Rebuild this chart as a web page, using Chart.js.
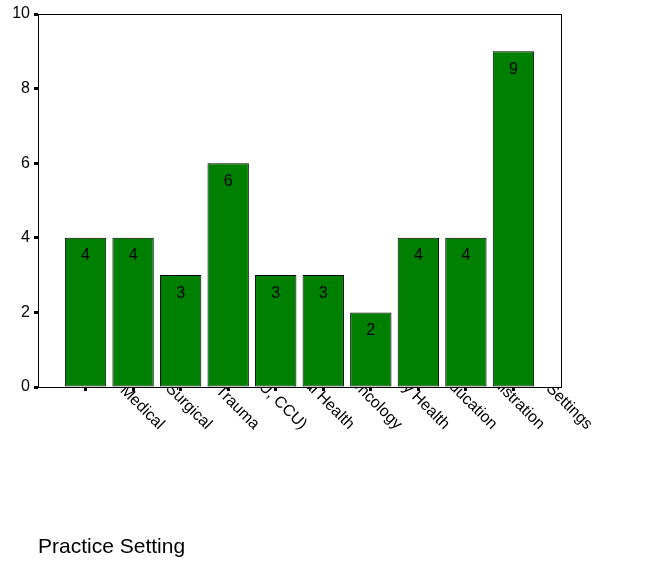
<!DOCTYPE html>
<html>
<head>
<meta charset="utf-8">
<title>Practice Setting</title>
<script src="https://cdn.jsdelivr.net/npm/chart.js@4/dist/chart.umd.min.js"></script>
<style>
  html, body { margin: 0; padding: 0; background: #fff; }
  #wrap { width: 666px; height: 564px; }
</style>
</head>
<body>
<div id="wrap"><canvas id="chart" width="666" height="564"></canvas></div>
<script>
// Practice setting counts
const categories = [
  'Medical', 'Surgical', 'Trauma', 'Critical Care (ICU, CCU)', 'Mental Health',
  'Oncology', 'Community Health', 'Education', 'Administration', 'Various Settings'
];
const counts = [4, 4, 3, 6, 3, 3, 2, 4, 4, 9];
const yTicks = [0, 2, 4, 6, 8, 10];
const axisTitle = 'Practice Setting';

const FONT = "'Liberation Sans', Arial, sans-serif";
const GREEN = '#008000';

// bars sit at 1..n on a linear axis that runs 0..n+1
const points = counts.map((v, i) => ({ x: i + 1, y: v }));

// frame round the plot area (top and right sides)
const frame = {
  id: 'frame',
  afterDraw(chart) {
    const { ctx, chartArea: a } = chart;
    ctx.save();
    ctx.strokeStyle = '#000';
    ctx.lineWidth = 1;
    ctx.strokeRect(Math.round(a.left) + 0.5, Math.round(a.top) + 0.5,
      Math.round(a.right - a.left), Math.round(a.bottom - a.top));
    ctx.restore();
  }
};

// count printed just inside the top of each bar
const barValues = {
  id: 'barValues',
  afterDatasetsDraw(chart) {
    const { ctx } = chart;
    const meta = chart.getDatasetMeta(0);
    ctx.save();
    ctx.font = '16px ' + FONT;
    ctx.fillStyle = '#000';
    ctx.textAlign = 'center';
    ctx.textBaseline = 'middle';
    meta.data.forEach((bar, i) => {
      ctx.fillText(String(counts[i]), bar.x, bar.y + 18);
    });
    ctx.restore();
  }
};

// category names, slanted down to the right, hidden where they run under the plot
const slantLabels = {
  id: 'slantLabels',
  afterDraw(chart) {
    const { ctx, chartArea: a, width, height } = chart;
    const xs = chart.scales.x;
    ctx.save();
    ctx.beginPath();
    ctx.rect(0, 0, width, height);
    ctx.rect(a.left, a.top, a.right - a.left, a.bottom - a.top);
    ctx.clip('evenodd');
    ctx.font = '16px ' + FONT;
    ctx.fillStyle = '#000';
    ctx.textAlign = 'right';
    ctx.textBaseline = 'middle';
    categories.forEach((name, i) => {
      const x = xs.getPixelForValue(i + 1);
      ctx.save();
      ctx.translate(x + 76, a.bottom + 40);
      ctx.rotate(Math.PI / 4);
      ctx.fillText(name, 0, 0);
      ctx.restore();
    });
    ctx.restore();
  }
};

new Chart(document.getElementById('chart'), {
  type: 'bar',
  data: {
    datasets: [{
      label: 'Count',
      data: points,
      backgroundColor: GREEN,
      borderColor: '#000',
      borderWidth: 1,
      borderSkipped: false,
      categoryPercentage: 1,
      barPercentage: 0.87
    }]
  },
  options: {
    responsive: false,
    animation: false,
    layout: { padding: { top: 14, right: 105, left: 0, bottom: 0 } },
    plugins: { legend: { display: false }, tooltip: { enabled: false } },
    scales: {
      x: {
        type: 'linear',
        offset: false,
        min: 0,
        max: categories.length + 1,
        afterBuildTicks: s => { s.ticks = categories.map((c, i) => ({ value: i + 1 })); },
        afterFit: s => { s.height = 177; },
        ticks: { callback: () => '', autoSkip: false },
        grid: { offset: false, drawOnChartArea: false, tickLength: 4, tickWidth: 3, color: '#000' },
        border: { color: '#000', width: 1 },
        title: {
          display: true,
          text: axisTitle,
          align: 'start',
          color: '#000',
          font: { family: FONT, size: 21 },
          padding: { top: 4, bottom: 4 }
        }
      },
      y: {
        min: 0,
        max: 10,
        afterBuildTicks: s => { s.ticks = yTicks.map(v => ({ value: v })); },
        afterFit: s => { s.width = 38; },
        ticks: { color: '#000', font: { family: FONT, size: 16 }, padding: 4 },
        grid: { drawOnChartArea: false, tickLength: 4, tickWidth: 3, color: '#000' },
        border: { color: '#000', width: 1 }
      }
    }
  },
  plugins: [barValues, frame, slantLabels]
});
</script>
</body>
</html>
